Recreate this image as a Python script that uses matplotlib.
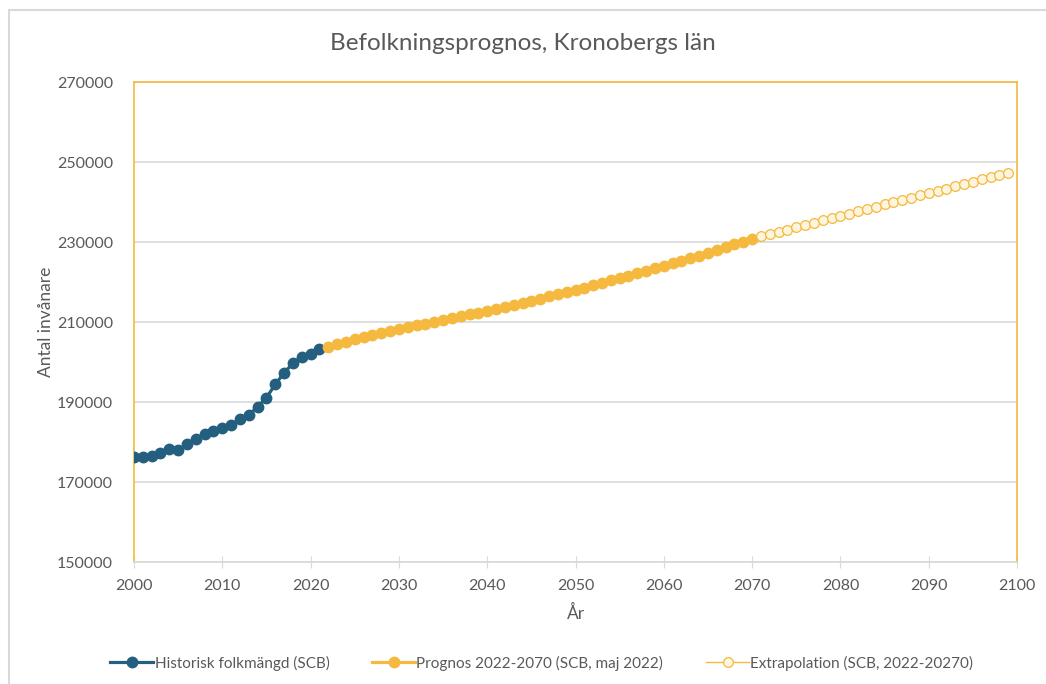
import matplotlib
matplotlib.use("Agg")
import matplotlib.pyplot as plt
from matplotlib.patches import Rectangle

# Historisk folkmängd 2000-2021
hist_years = list(range(2000, 2022))
hist_values = [176200, 176200, 176600, 177200, 178200, 178000, 179400, 180700,
               181900, 182800, 183600, 184300, 185700, 186800, 188800, 191100,
               194400, 197300, 199700, 201300, 202000, 203200]

# Prognos 2022-2070
prog_years = list(range(2022, 2071))
prog_values = [203800, 204500, 205100, 205700, 206200, 206700, 207200, 207700,
               208200, 208700, 209200, 209600, 210100, 210500, 211000, 211400,
               211900, 212300, 212800, 213300, 213800, 214300, 214800, 215300,
               215800, 216400, 216900, 217500, 218000, 218600, 219200, 219800,
               220400, 221000, 221600, 222200, 222800, 223400, 224000, 224700,
               225300, 226000, 226600, 227300, 228000, 228700, 229400, 230100,
               230800]

# Extrapolation 2071-2099
extra_years = list(range(2071, 2100))
extra_values = [231400, 231970, 232540, 233110, 233680, 234250, 234820, 235390,
                235960, 236530, 237100, 237670, 238240, 238810, 239380, 239950,
                240520, 241090, 241660, 242230, 242800, 243370, 243940, 244510,
                245080, 245650, 246220, 246790, 247360]

x_ticks = list(range(2000, 2101, 10))
y_ticks = list(range(150000, 270001, 20000))

blue = "#245F7F"
yellow = "#F4B93E"
grey_txt = "#595959"

plt.rcParams['font.family'] = ['Lato', 'DejaVu Sans']

fig = plt.figure(figsize=(10.46, 6.84), dpi=100)
ax = fig.add_axes([134 / 1046, 1 - 562 / 684, (1017 - 134) / 1046, (562 - 82) / 684])

# chart border
fig.patches.append(Rectangle((9 / 1046, -0.05), 1.1, 1 - 10 / 684 + 0.05,
                             transform=fig.transFigure, fill=False,
                             edgecolor="#D9D9D9", linewidth=1.5))

ax.plot(hist_years, hist_values, color=blue, lw=2.3, marker='o', ms=7.5,
        label="Historisk folkmängd (SCB)", zorder=3)
ax.plot(prog_years, prog_values, color=yellow, lw=2.3, marker='o', ms=7.5,
        label="Prognos 2022-2070 (SCB, maj 2022)", zorder=3)
ax.plot(extra_years, extra_values, color=yellow, lw=1.0, marker='o', ms=7,
        markerfacecolor="#FEF5DF", markeredgecolor=yellow, markeredgewidth=0.9,
        label="Extrapolation (SCB, 2022-20270)", zorder=3)

ax.set_xlim(2000, 2100)
ax.set_ylim(150000, 270000)
ax.set_xticks(x_ticks)
ax.set_yticks(y_ticks)
ax.yaxis.grid(True, color="#D9D9D9", lw=1.2)
ax.set_axisbelow(True)

for s in ['left', 'right', 'top']:
    ax.spines[s].set_color(yellow)
    ax.spines[s].set_linewidth(1.2)
ax.spines['bottom'].set_color("#D9D9D9")
ax.spines['bottom'].set_linewidth(1.2)

ax.tick_params(axis='y', length=0, pad=15, labelsize=11.5, labelcolor=grey_txt)
ax.tick_params(axis='x', direction='inout', length=8, color="#D9D9D9",
               pad=8, labelsize=11.5, labelcolor=grey_txt)

ax.set_xlabel("År", fontsize=12.5, color=grey_txt, labelpad=9)
ax.set_ylabel("Antal invånare", fontsize=12.5, color=grey_txt, labelpad=2)
fig.text(0.5, 1 - 43 / 684, "Befolkningsprognos, Kronobergs län",
         ha='center', va='center', fontsize=17.5, color=grey_txt)

fig.legend(loc='center', bbox_to_anchor=(0.518, 1 - 663 / 684), ncol=3,
           frameon=False, fontsize=11, labelcolor=grey_txt,
           handlelength=2.8, handletextpad=0.1, columnspacing=2.8)

fig.savefig("out.png", dpi=100)
